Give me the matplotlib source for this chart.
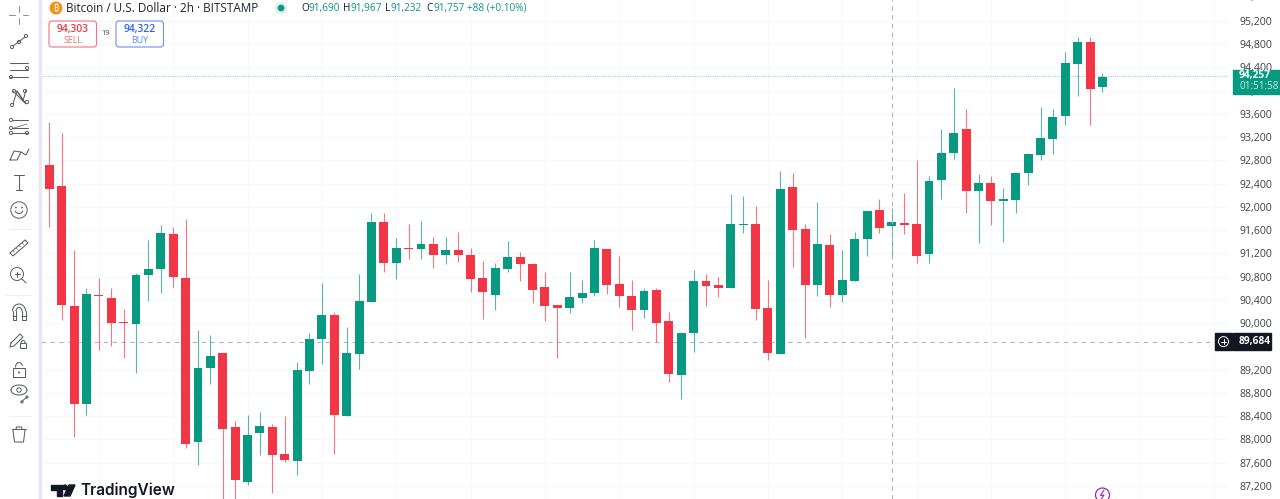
import numpy as np
import matplotlib
matplotlib.use("Agg")
import matplotlib.pyplot as plt
from matplotlib.patches import Rectangle, Circle, FancyBboxPatch, Polygon
from matplotlib.transforms import blended_transform_factory

plt.rcParams['font.family'] = ['Open Sans', 'Noto Sans', 'DejaVu Sans']

opens = [92722,92361,90302,88610,90486,90434,90013,89987,90830,90933,
         91535,90778,87957,89230,89488,88215,87269,88112,88215,87750,
         87630,89178,89729,90142,88404,89471,90365,91742,91036,91295,
         91277,91363,91174,91260,91174,90778,90486,90933,91140,91019,
         90623,90314,90262,90434,90520,91277,90675,90469,90228,90572,
         90039,89110,89832,90727,90658,90606,91690,91707,90262,89471,
         92344,91621,90658,91346,90486,90727,91449,91948,91673,91725,
         91707,91191,92464,92929,93342,92275,92413,92103,92120,92585,
         92894,93170,93565,94460,94839,94064]
closes = [92309,90314,88610,90503,90469,90004,89996,90830,90933,91553,
          90796,87922,89230,89436,88180,87303,88077,88232,87733,87647,
          89195,89729,90142,88421,89488,90383,91742,91036,91295,91277,
          91363,91174,91260,91174,90761,90537,90950,91140,91019,90572,
          90297,90262,90451,90520,91295,90658,90469,90228,90555,90004,
          89127,89832,90727,90641,90606,91707,91707,90245,89488,92309,
          91604,90658,91363,90486,90744,91449,91931,91638,91742,91690,
          91157,92447,92929,93273,92275,92413,92103,92137,92585,92911,
          93187,93548,94477,94839,94030,94236]
highs = [93467,93273,91260,90606,90778,90606,90245,90864,91432,91690,
         91656,91793,89884,89798,89488,88318,88421,88473,88267,88404,
         89333,89832,90692,90193,89935,90847,91897,91897,91466,91707,
         91759,91484,91484,91570,91295,91071,91036,91415,91226,91036,
         90881,90314,90881,90744,91432,91277,91157,90744,90606,90606,
         90193,89849,90916,90847,90796,92223,92189,92017,90744,92619,
         92585,91707,92086,91535,91260,91570,91931,92137,91983,92241,
         92808,92533,93342,94047,93686,92567,92533,92327,92585,92929,
         93720,93686,94667,94925,94925,94305]
lows = [91661,90056,88048,88421,89540,89608,89402,89144,90383,90520,
        90623,87854,87561,88955,86873,86959,87217,87733,87079,87613,
        87389,88955,89299,87750,88404,89213,90365,90881,90761,91105,
        91105,90950,91019,91054,90537,90073,90228,90881,90727,90348,
        90039,89402,90176,90348,90469,90503,90279,89884,90090,89677,
        88989,88697,89505,90297,90451,90606,91553,90056,89367,89471,
        90968,89746,90469,90279,90365,90727,91157,91553,91140,91535,
        91036,91036,92137,92826,91897,91380,91690,91398,91897,92378,
        92808,92912,93410,93909,93410,93978]
price_ticks = [95200,94800,94400,94000,93600,93200,92800,92400,92000,91600,91200,
               90800,90400,90000,89200,88800,88400,88000,87600,87200]
last_price = 94257
cross_price = 89684

GREEN, RED = '#089981', '#f23645'
INK, GREY = '#131722', '#5d606b'

fig = plt.figure(figsize=(12.8, 4.99), dpi=100, facecolor='white')
ax = fig.add_axes([41/1280, 0, 1187/1280, 1])

idx = np.arange(len(opens))
o, c, h, l = map(np.array, (opens, closes, highs, lows))
up = c >= o
cols = np.where(up, GREEN, RED)

ax.vlines(idx, l, h, colors=cols, linewidth=0.8, alpha=0.68, zorder=3)
body = np.maximum(np.abs(c - o), 20)
ax.bar(idx, body, bottom=np.minimum(o, c), width=0.72, color=cols, linewidth=0, zorder=4)

for s in ax.spines.values():
    s.set_visible(False)
ax.set_xticks(np.arange(4, 96, 6))
ax.tick_params(axis='x', length=0, labelbottom=False)
ax.yaxis.tick_right()
ax.set_yticks(price_ticks)
ax.set_yticklabels([f'{t:,}' for t in price_ticks])
ax.tick_params(axis='y', length=0, pad=8.6, labelsize=7.6, labelcolor='#3c4049')
ax.grid(True, color='#f7f8fa', linewidth=0.8, zorder=0)
ax.set_axisbelow(True)
ax.set_xlim((41-49.3)/12.39, (1228-49.3)/12.39)
ax.set_ylim(95561-499*17.204, 95561)
ax.text(1.0101, 95600, '95,600', transform=blended_transform_factory(ax.transAxes, ax.transData),
        fontsize=7.6, color='#3c4049', va='center', ha='left', clip_on=False)

ax.axhline(last_price, color=GREEN, lw=0.8, ls=(0, (1, 1)), alpha=0.4, zorder=2)
ax.axhline(cross_price, color='#b2b5be', lw=0.8, ls=(0, (4, 4)), zorder=2)
ax.axvline((892-49.3)/12.39, color='#b2b5be', lw=0.8, ls=(0, (4, 4)), zorder=5)

# overlay in pixel coordinates for the chart chrome
ov = fig.add_axes([0, 0, 1, 1], zorder=5)
ov.set_xlim(0, 1280); ov.set_ylim(499, 0); ov.axis('off'); ov.patch.set_alpha(0)

def yp(price):
    return 499 - ax.transData.transform((0, price))[1]

# left toolbar
ov.add_patch(Rectangle((0, 0), 39, 499, color='white', zorder=1))
ov.add_patch(Rectangle((39, 0), 2, 499, color='#e6e8ee', zorder=1))
IC = '#5a5e68'
def L(xs, ys, c=IC, lw=0.75):
    ov.plot(xs, ys, color=c, lw=lw, solid_capstyle='round', zorder=3)
def C(x, y, r=1.6, lw=0.7, c=IC):
    ov.add_patch(Circle((x, y), r, fill=False, ec=c, lw=lw, zorder=3))

# crosshair
for a, b in [((9, 15), (15, 15)), ((23, 15), (28, 15)), ((19, 6), (19, 12)), ((19, 18), (19, 24))]:
    L([a[0], b[0]], [a[1], b[1]], c='#7f89d6')
# trend line
L([13, 25], [46, 37]); C(12, 47); C(26, 36); C(19, 42)
# parallel lines
for yy in (63, 70, 77):
    L([10, 28], [yy, yy])
C(27, 68); C(11, 77)
# network
L([13, 17, 23, 26], [104, 91, 101, 90]); L([13, 25], [91, 103]); L([17, 26], [91, 104])
C(12, 105); C(14, 91); C(27, 102); C(25, 91)
# fib
for yy in (120, 128, 133):
    L([12, 28], [yy, yy])
C(11, 120); C(11, 128); C(11, 133); C(27, 133)
L([14, 27], [128, 124], lw=0.5)
# brush
L([10, 14, 21, 17, 10], [160, 151, 152, 160, 160]); L([21, 26, 29], [152, 155, 149])
# T
L([14, 24], [175, 175]); L([19, 19], [175, 190]); L([16, 22], [190, 190])
# smiley
C(19, 210, r=8.2); C(16, 207.5, r=0.4); C(22, 207.5, r=0.4)
t = np.linspace(0.3, np.pi-0.3, 16)
L(19+4*np.cos(t), 210+3.5*np.sin(t))
L([9, 31], [229, 229], c='#eceef2')
# ruler
L([10, 25, 28, 13, 10], [253, 240, 243, 256, 253])
for k in range(5):
    L([13+3*k, 14.5+3*k], [250.5-2.6*k, 252-2.6*k], lw=0.5)
# zoom
C(17, 274, r=6.5); L([22, 26], [279, 283]); L([14.5, 19.5], [274, 274]); L([17, 17], [271.5, 276.5])
L([5, 32], [295, 295], c='#eceef2')
# magnet
t = np.linspace(np.pi, 2*np.pi, 16)
L(19+6.5*np.cos(t), 311+7*np.sin(t)); L(19+3*np.cos(t), 311+3.5*np.sin(t))
L([12.5, 12.5, 16, 16], [311, 320, 320, 311]); L([22, 22, 25.5, 25.5], [311, 320, 320, 311])
L([12.5, 16], [316, 316]); L([22, 25.5], [316, 316])
# pencil lock
L([11, 20, 23, 14, 10, 11], [343, 334, 337, 346, 347, 343])
ov.add_patch(Rectangle((20, 343), 6, 5, fill=False, ec=IC, lw=0.75, zorder=3))
t = np.linspace(np.pi, 2*np.pi, 10); L(23+2*np.cos(t), 343+2.5*np.sin(t))
# lock
ov.add_patch(Rectangle((13, 368), 12, 9, fill=False, ec=IC, lw=0.75, zorder=3))
t = np.linspace(np.pi, 1.9*np.pi, 10); L(19+3.5*np.cos(t), 367+4.5*np.sin(t))
C(19, 372.5, r=0.5)
# eye
t = np.linspace(0, np.pi, 16)
L(19+8*np.cos(t), 390-5*np.sin(t)); L(19+8*np.cos(t), 390+5*np.sin(t)); C(19, 390, r=2.2)
L([21, 27], [402, 397]); C(22, 402, r=1.1); C(27, 397, r=1.1)
L([9, 31], [416, 416], c='#eceef2')
# trash
L([13, 14.5, 23.5, 25], [430, 442, 442, 430]); L([12, 26], [429, 429]); L([16, 16.5, 21.5, 22], [429, 427, 427, 429])

# header
ov.add_patch(Circle((56, 8), 5.8, color='#f7931a', zorder=3))
ov.text(56, 8.2, '₿', color='white', fontsize=6.5, ha='center', va='center',
        family=['Noto Sans', 'Inter', 'Roboto', 'Lato', 'Liberation Sans', 'DejaVu Sans'], zorder=4)
ov.text(66, 8, 'Bitcoin / U.S. Dollar · 2h · BITSTAMP', color='#1f232c', fontsize=8.5, va='center', ha='left', zorder=4)
ov.add_patch(Circle((281, 8), 5, color='#d4efe9', zorder=3))
ov.add_patch(Circle((281, 8), 2.6, color=GREEN, zorder=3))
for lab, val, x, off in [('O', '91,690', 301, 7.5), ('H', '91,967', 343, 7.5),
                         ('L', '91,232', 385, 5.5), ('C', '91,757', 426, 7)]:
    ov.text(x, 8, lab, color=INK, fontsize=7.2, va='center', ha='left', zorder=4)
    ov.text(x + off, 8, val, color=GREEN, fontsize=7.2, va='center', ha='left', zorder=4)
ov.text(467, 8, '+88 (+0.10%)', color=GREEN, fontsize=7.2, va='center', ha='left', zorder=4)

for x0, col, val, lab in [(49, RED, '94,303', 'SELL'), (116, '#2962ff', '94,322', 'BUY')]:
    ov.add_patch(FancyBboxPatch((x0, 21), 47.5, 26, boxstyle='round,pad=0,rounding_size=3',
                                mutation_aspect=1, fill=True, fc='white', ec=col, lw=0.8, alpha=0.7, zorder=3))
    ov.text(x0+24, 29, val, color=col, fontsize=7.4, ha='center', va='center', zorder=4, fontweight='semibold')
    ov.text(x0+24, 40, lab, color=col, fontsize=6.4, ha='center', va='center', alpha=0.75, zorder=4)
ov.text(106, 33.5, '19', color='#3c4049', fontsize=5.4, ha='center', va='center', zorder=4)

# last price tag
yy = yp(last_price)
ov.add_patch(Rectangle((1233, yy-6), 47, 24, color=GREEN, zorder=3))
ov.text(1239, yy-0.5, f'{last_price:,}', color='white', fontsize=7.3, fontweight='bold', va='center', ha='left', zorder=4)
ov.text(1239, yy+10.8, '01:51:58', color='#c5e8e1', fontsize=7.2, va='center', ha='left', zorder=4)

# crosshair price tag
yy = yp(cross_price)
ov.add_patch(Rectangle((1215, yy-8.5), 17, 17, color=INK, zorder=3))
ov.add_patch(Rectangle((1233, yy-8.5), 38, 17, color=INK, zorder=3))
ov.add_patch(Circle((1223.5, yy), 5, fill=False, ec='white', lw=0.7, zorder=4))
L([1221, 1226], [yy, yy], c='white', lw=0.7); L([1223.5, 1223.5], [yy-2.5, yy+2.5], c='white', lw=0.7)
ov.text(1239, yy, f'{cross_price:,}', color='white', fontsize=7.3, fontweight='bold', va='center', ha='left', zorder=4)

# TradingView logo
ov.add_patch(Polygon([(51, 485), (62, 485), (62, 496), (57, 496), (57, 490), (51, 490)], color=INK, zorder=4))
ov.add_patch(Circle((65, 487.4), 2.3, color=INK, zorder=4))
ov.add_patch(Polygon([(69, 485), (75, 485), (70, 496), (64, 496)], color=INK, zorder=4))
ov.text(80, 490.5, 'TradingView', color=INK, fontsize=11.1, fontweight='semibold',
        family=['Inter', 'Open Sans'], va='center', ha='left', zorder=4)

# lightning badge
ov.add_patch(Circle((1102.5, 495), 7, fill=False, ec='#9c27b0', lw=0.9, zorder=4))
L([1104, 1100.5, 1104, 1101], [490, 495.5, 495, 499.5], c='#9c27b0', lw=0.8)

fig.savefig('out.png', dpi=100, facecolor='white')
